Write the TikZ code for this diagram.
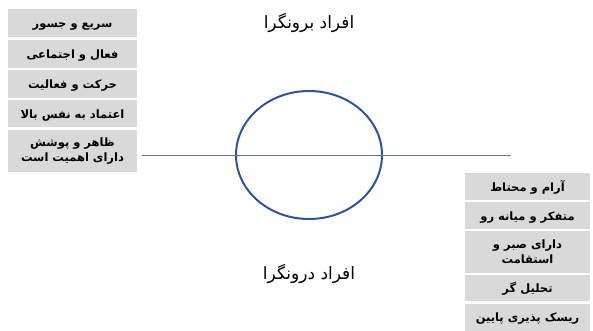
\documentclass[tikz,border=0pt]{standalone}
\usepackage{fontspec}
\newfontfamily\arabicfont[Script=Arabic]{DejaVu Sans}
\TeXXeTstate=1
\usetikzlibrary{shapes.geometric}
\definecolor{ringblue}{RGB}{47,85,151}
\definecolor{axisblue}{RGB}{90,120,160}
\definecolor{boxgray}{RGB}{217,217,217}

\begin{document}
\begin{tikzpicture}[x=1pt,y=-1pt]
\tikzset{
  traitbox/.style={fill=boxgray,draw=none,inner sep=1pt,align=center,
    font=\arabicfont\bfseries\fontsize{11.5}{15}\selectfont},
  oneline/.style={text height=11pt,text depth=2pt},
  lefttrait/.style={traitbox,minimum width=129pt},
  righttrait/.style={traitbox,minimum width=125pt},
  grouptitle/.style={font=\arabicfont\fontsize{17}{20}\selectfont},
  axisline/.style={draw=axisblue,line width=0.9pt},
  bigring/.style={ellipse,draw=ringblue,line width=2pt,minimum width=146pt,minimum height=128pt,inner sep=0pt}
}
\useasboundingbox (0,0) rectangle (593,330);
\node[grouptitle] (t_out) at (309,23) {\beginR افراد برونگرا\endR};
\node[grouptitle] (t_in) at (309,274) {\beginR افراد درونگرا\endR};
\node[lefttrait,oneline,minimum height=28pt] (l1) at (72.5,23) {\beginR سریع و جسور\endR};
\node[lefttrait,oneline,minimum height=28pt] (l2) at (72.5,54) {\beginR فعال و اجتماعی\endR};
\node[lefttrait,oneline,minimum height=28pt] (l3) at (72.5,84) {\beginR حرکت و فعالیت\endR};
\node[lefttrait,oneline,minimum height=27pt] (l4) at (72.5,113.5) {\beginR اعتماد به نفس بالا\endR};
\node[lefttrait,minimum height=42pt] (l5) at (72.5,151) {\beginR ظاهر و پوشش\endR\\\beginR دارای اهمیت است\endR};
\node[righttrait,oneline,minimum height=27pt] (r1) at (527.5,186.5) {\beginR آرام و محتاط\endR};
\node[righttrait,oneline,minimum height=27pt] (r2) at (527.5,215.5) {\beginR متفکر و میانه رو\endR};
\node[righttrait,minimum height=42pt] (r3) at (527.5,252) {\beginR دارای صبر و\endR\\\beginR استقامت\endR};
\node[righttrait,oneline,minimum height=26pt] (r4) at (527.5,288) {\beginR تحلیل گر\endR};
\node[righttrait,oneline,minimum height=27pt] (r5) at (527.5,317) {\beginR ریسک پذیری پایین\endR};
\node[bigring] (ring) at (309,155) {};
\coordinate (a_left) at (142,155);
\coordinate (a_right) at (511,155);
\draw[axisline] (a_left) -- (a_right);
\end{tikzpicture}
\end{document}
